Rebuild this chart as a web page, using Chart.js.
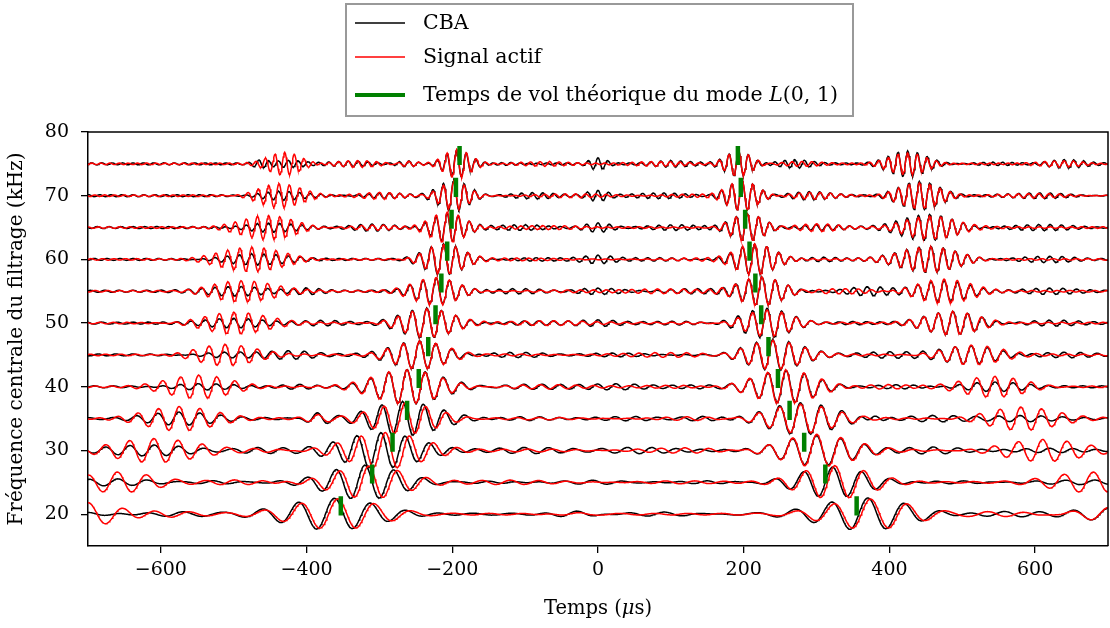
<!DOCTYPE html>
<html>
<head>
<meta charset="utf-8">
<script src="https://cdn.jsdelivr.net/npm/chart.js@4.4.0/dist/chart.umd.min.js"></script>
<style>
  html, body { margin: 0; padding: 0; background: #fff; }
  #wrap { width: 1110px; height: 628px; }
</style>
</head>
<body>
<div id="wrap"><canvas id="chart" width="1110" height="628"></canvas></div>
<script>
// filter centre frequencies (kHz), one trace each, drawn at y = f
const freqs = [20, 25, 30, 35, 40, 45, 50, 55, 60, 65, 70, 75];
// theoretical L(0,1) time of flight (µs)
const tofLeft = [-353, -310, -282, -262, -246, -233, -223, -215, -207, -201, -195, -190];
const tofRight = [355, 312, 283, 263, 247, 234, 224, 216, 208, 202, 196, 192];
const xTicks = [-600, -400, -200, 0, 200, 400, 600];
const yTicks = [20, 30, 40, 50, 60, 70, 80];

// wave packets, per trace (20 kHz first)
// [centre µs, half width µs, amplitude, phase deg, carrier ratio]
const cbaPackets = [
  [[-700,60,0.4],[-560,60,0.3,90],[-362,88,2.6],[-30,40,0.6],[100,60,0.35,90],[370,85,2.5],[560,60,0.35],[700,60,1.0],[0,5000,0.15,45,0.9]],
  [[-660,80,0.6],[-520,50,0.3,90],[-320,72,2.8],[-150,60,0.3],[0,50,0.3,90],[150,60,0.35],[322,68,2.5],[500,60,0.3],[680,80,0.3],[0,5000,0.12,0,0.93]],
  [[-610,80,0.8],[-460,50,0.4,90],[-298,75,2.9],[-100,70,0.4],[50,60,0.4,90],[300,70,2.5],[460,50,0.4],[620,75,0.5],[0,5000,0.15,0,0.94]],
  [[-575,65,0.9],[-385,22,0.9],[-268,65,2.6],[-100,60,0.45,90],[50,60,0.4],[150,50,0.4,90],[278,65,2.4],[380,20,0.7],[460,60,0.4],[580,60,0.35],[0,5000,0.15,0,0.94]],
  [[-548,60,0.6],[-410,40,0.5],[-262,62,2.6],[-100,60,0.35],[30,60,0.35,90],[150,50,0.35],[258,58,2.6],[410,50,0.45],[545,60,0.9],[0,5000,0.15,0,0.94]],
  [[-512,55,0.5],[-420,45,0.5,90],[-245,52,2.3],[-100,60,0.35],[40,60,0.3],[240,52,2.3],[400,50,0.35],[512,55,1.5],[640,50,0.3],[0,5000,0.15,0,0.94]],
  [[-500,60,0.9],[-380,40,0.3],[-235,48,2.2],[-100,50,0.35],[0,40,0.35],[120,50,0.35],[232,45,2.2],[350,40,0.4],[487,50,1.7],[620,50,0.35],[0,5000,0.15,0,0.94]],
  [[-490,60,0.8],[-400,30,0.5],[-222,42,2.2],[-100,50,0.3],[0,40,0.35],[120,50,0.3],[225,42,2.3],[370,40,0.6],[475,50,1.8],[620,50,0.35],[0,5000,0.15,0,0.94]],
  [[-475,60,0.8],[-212,36,2.3],[-100,50,0.3],[0,30,0.5],[100,50,0.3],[215,36,2.3],[310,40,0.5],[457,55,2.0],[620,50,0.35],[0,5000,0.15,0,0.94]],
  [[-452,50,0.8],[-310,40,0.4],[-207,32,2.3],[-100,50,0.3],[0,25,0.6],[100,50,0.3],[205,32,2.3],[300,40,0.5],[455,50,2.0],[620,60,0.35],[0,5000,0.15,0,0.94]],
  [[-438,40,0.6],[-300,40,0.4],[-198,28,2.3],[-90,40,0.35],[0,20,0.7],[90,50,0.3],[198,28,2.2],[290,40,0.5],[441,38,2.1],[620,60,0.35],[0,5000,0.15,0,0.94]],
  [[-465,15,0.5],[-425,30,0.4],[-330,40,0.4],[-260,20,0.5],[-194,25,2.2],[-120,30,0.35],[0,15,0.8],[100,40,0.35],[193,25,2.1],[270,30,0.5],[425,35,1.9],[530,40,0.3],[640,35,0.55],[0,5000,0.15,0,0.94]]
];
const actifPackets = [
  [[-700,55,1.7],[-600,60,0.4,90],[-357,85,2.5],[-30,40,0.3],[374,82,2.5],[550,70,0.3,90],[700,60,1.1],[0,5000,0.12,100,1.1]],
  [[-660,70,1.7],[-500,50,0.3],[-315,68,2.5],[-120,80,0.25],[100,80,0.25,90],[325,66,2.5],[680,80,1.7],[0,5000,0.1,90,1.07]],
  [[-610,80,1.8],[-460,50,0.35,90],[-292,70,2.7],[-60,80,0.25],[120,70,0.3],[300,68,2.5],[610,75,1.8],[0,5000,0.12,90,1.06]],
  [[-575,65,1.8],[-385,22,0.5],[-265,62,2.5],[-50,80,0.25],[120,60,0.3],[278,63,2.4],[580,65,1.8],[0,5000,0.12,90,1.06]],
  [[-548,60,1.7],[-262,62,2.6],[-80,70,0.25],[120,60,0.25],[258,58,2.6],[400,50,0.3],[545,60,1.7],[0,5000,0.12,90,1.06]],
  [[-512,55,1.6],[-245,52,2.3],[-80,80,0.2],[100,80,0.25],[240,52,2.3],[512,55,1.6],[0,5000,0.12,90,1.06]],
  [[-500,60,1.7],[-235,48,2.2],[-60,80,0.25],[100,80,0.25],[232,45,2.2],[487,50,1.7],[0,5000,0.12,90,1.06]],
  [[-490,60,1.7],[-222,42,2.2],[-80,80,0.25],[100,80,0.25],[225,42,2.3],[340,60,0.3],[475,50,1.8],[0,5000,0.12,90,1.06]],
  [[-475,60,1.8],[-212,36,2.3],[-60,80,0.25],[100,80,0.25],[215,36,2.3],[457,55,2.0],[0,5000,0.12,90,1.06]],
  [[-452,50,1.8],[-310,40,0.3],[-207,32,2.3],[-60,80,0.2],[120,80,0.2],[205,32,2.3],[300,40,0.5],[455,50,1.9],[0,5000,0.12,90,1.06]],
  [[-438,40,1.9],[-300,40,0.4],[-198,28,2.3],[-60,80,0.2],[100,80,0.2],[198,28,2.2],[290,40,0.5],[441,38,1.9],[620,60,0.3],[0,5000,0.12,90,1.06]],
  [[-430,30,1.7],[-330,40,0.4],[-260,20,0.5],[-194,25,2.2],[-80,50,0.25],[100,60,0.3],[193,25,2.0],[280,40,0.5],[425,35,1.6],[640,40,0.4],[0,5000,0.12,90,1.06]]
];

const tStart = -700, tEnd = 700, tStep = 1;
const serif = 'DejaVu Serif';

function wave(f, packets, t) {
  let y = f;
  for (const p of packets) {
    const [c, w, a, ph = 0, r = 1] = p;
    const u = (t - c) / w;
    if (Math.abs(u) > 4) continue;
    y += a * Math.exp(-u * u) * Math.cos(2 * Math.PI * f * r * (t - c) / 1000 + ph * Math.PI / 180);
  }
  return y;
}

// all traces in one dataset, NaN breaks the line between traces
function buildSeries(packetsByTrace) {
  const pts = [];
  freqs.forEach((f, i) => {
    for (let t = tStart; t <= tEnd; t += tStep) pts.push({ x: t, y: wave(f, packetsByTrace[i], t) });
    pts.push({ x: tEnd, y: NaN });
  });
  return pts;
}

const tofPoints = [];
freqs.forEach((f, i) => {
  [tofLeft[i], tofRight[i]].forEach(t => {
    tofPoints.push({ x: t, y: f - 0.2 }, { x: t, y: f + 2.8 }, { x: t, y: NaN });
  });
});

const fmt = v => (v < 0 ? '\u2212' + Math.abs(v) : String(v));

// legend box, x title with italic µ, top/right spines
const decorations = {
  id: 'decorations',
  afterDraw(chart) {
    const c = chart.ctx;
    const a = chart.chartArea;
    c.save();
    c.strokeStyle = '#000';
    c.lineWidth = 1.5;
    c.beginPath();
    c.moveTo(a.left, a.top); c.lineTo(a.right, a.top); c.lineTo(a.right, a.bottom);
    c.stroke();

    // x title
    c.fillStyle = '#000';
    c.textBaseline = 'alphabetic';
    const parts = [['Temps (', ''], ['\u03bc', 'italic '], ['s)', '']];
    let w = 0;
    parts.forEach(p => { c.font = p[1] + '19.5px "' + serif + '"'; w += c.measureText(p[0]).width; });
    let x = (a.left + a.right) / 2 - w / 2;
    parts.forEach(p => { c.font = p[1] + '19.5px "' + serif + '"'; c.fillText(p[0], x, 614); x += c.measureText(p[0]).width; });

    // legend
    c.strokeStyle = '#999';
    c.lineWidth = 2;
    c.strokeRect(346, 4, 507, 112);
    const ds = chart.data.datasets;
    const rows = [[ds[2], 23], [ds[1], 57], [ds[0], 95]];
    rows.forEach(([d, y]) => {
      c.strokeStyle = d.borderColor;
      c.lineWidth = d === ds[0] ? 4 : 1.5;
      c.beginPath(); c.moveTo(355, y); c.lineTo(405, y); c.stroke();
      c.textBaseline = 'middle';
      let tx = 423;
      const segs = d === ds[0]
        ? [['Temps de vol th\u00e9orique du mode ', ''], ['L', 'italic '], ['(0, 1)', '']]
        : [[d.label, '']];
      segs.forEach(s => { c.font = s[1] + '20.5px "' + serif + '"'; c.fillText(s[0], tx, y + 1); tx += c.measureText(s[0]).width; });
    });
    c.restore();
  }
};

const tickFont = { family: serif, size: 19 };

new Chart(document.getElementById('chart').getContext('2d'), {
  type: 'line',
  data: {
    datasets: [
      { label: 'Temps de vol th\u00e9orique du mode L(0,1)', data: tofPoints, borderColor: '#008000', borderWidth: 4.5, borderCapStyle: 'butt', pointRadius: 0 },
      { label: 'Signal actif', data: buildSeries(actifPackets), borderColor: '#ff0000', borderWidth: 1.5, pointRadius: 0 },
      { label: 'CBA', data: buildSeries(cbaPackets), borderColor: '#000000', borderWidth: 1.5, pointRadius: 0 }
    ]
  },
  options: {
    responsive: false,
    animation: false,
    events: [],
    layout: { padding: { top: 132, right: 2, left: 0, bottom: 0 } },
    elements: { line: { tension: 0, fill: false } },
    plugins: { legend: { display: false }, tooltip: { enabled: false } },
    scales: {
      x: {
        type: 'linear', min: -700, max: 700,
        afterBuildTicks: s => { s.ticks = xTicks.map(v => ({ value: v })); },
        afterFit: s => { s.height = 82; },
        ticks: { callback: fmt, font: tickFont, color: '#000', padding: 6, maxRotation: 0, autoSkip: false },
        grid: { drawOnChartArea: false, tickLength: 7, color: '#000', lineWidth: 1.3 },
        border: { color: '#000', width: 1.5 }
      },
      y: {
        type: 'linear', min: 15, max: 80,
        afterBuildTicks: s => { s.ticks = yTicks.map(v => ({ value: v })); },
        afterFit: s => { s.width = 88; },
        ticks: { font: tickFont, color: '#000', padding: 12, autoSkip: false },
        grid: { drawOnChartArea: false, tickLength: 7, color: '#000', lineWidth: 1.3 },
        border: { color: '#000', width: 1.5 },
        title: { display: true, text: 'Fr\u00e9quence centrale du filtrage (kHz)', font: { family: serif, size: 20 }, color: '#000', padding: { top: 5, bottom: 0 } }
      }
    }
  },
  plugins: [decorations]
});
</script>
</body>
</html>
